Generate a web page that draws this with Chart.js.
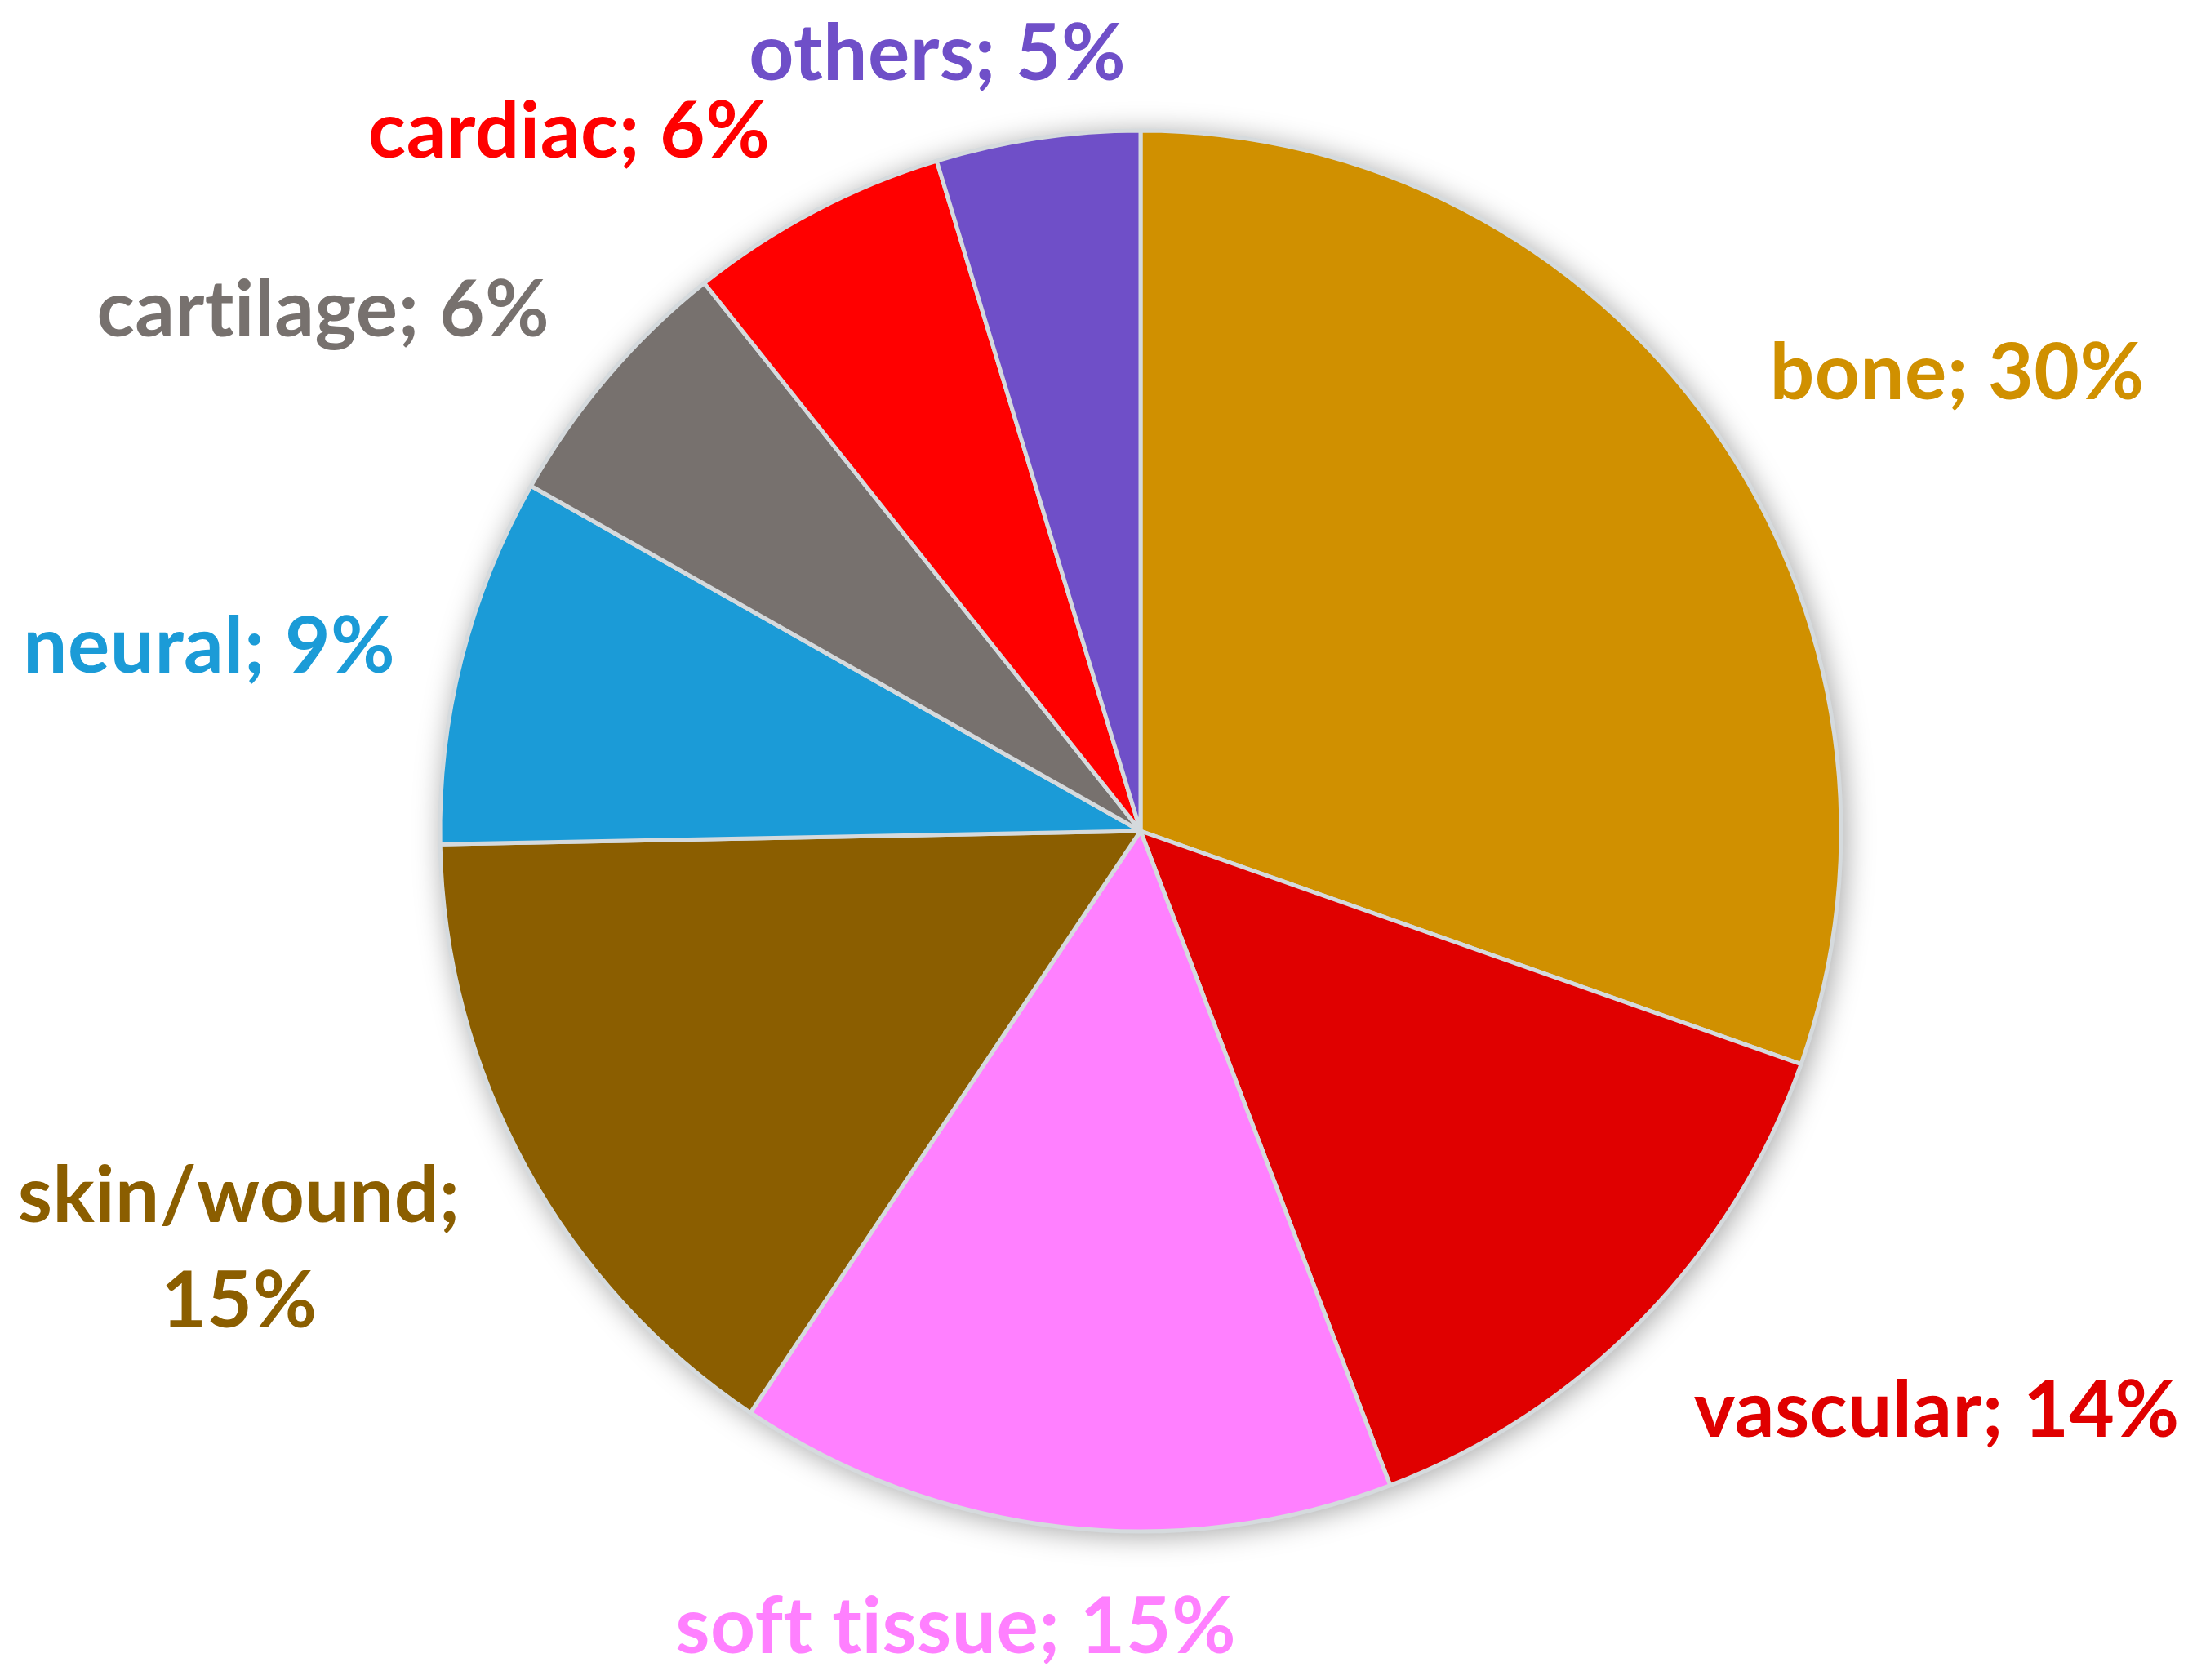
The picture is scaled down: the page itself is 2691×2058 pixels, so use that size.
<!DOCTYPE html>
<html>
<head>
<meta charset="utf-8">
<script src="https://cdn.jsdelivr.net/npm/chart.js"></script>
<style>
  html, body { margin: 0; padding: 0; background: #ffffff; }
  #wrap { width: 2691px; height: 2058px; }
</style>
</head>
<body>
<div id="wrap"><canvas id="pieChart" width="2691" height="2058"></canvas></div>
<script>
// chart data (shares in %; labels show them rounded)
const categories = ['bone', 'vascular', 'soft tissue', 'skin/wound', 'neural', 'cartilage', 'cardiac', 'others'];
const shares = [30.4, 13.8, 15.2, 15.3, 8.5, 6.1, 6.0, 4.7];
const sliceColors = ['#D09000', '#E00000', '#FF80FF', '#8B5E00', '#1B9BD7', '#77716E', '#FF0000', '#6F4FC8'];

// where each label sits: [angle from 12 o'clock in deg, distance as multiple of radius]
const labelPlacement = [[60.6, 1.338], [125.95, 1.404], [193.1, 1.164], [245.25, 1.417], [281.35, 1.356], [302.6, 1.385], [320.85, 1.292], [345.4, 1.15]];
// labels that break onto two lines after the semicolon
const wrappedLabels = ['skin/wound'];

// soft shadow disc under the pie
const pieShadow = {
    id: 'pieShadow',
    beforeDatasetsDraw(chart) {
        const arc = chart.getDatasetMeta(0).data[0];
        const ctx = chart.ctx;
        ctx.save();
        ctx.shadowColor = 'rgba(0,0,0,0.35)';
        ctx.shadowBlur = 34;
        ctx.shadowOffsetX = 4;
        ctx.shadowOffsetY = 4;
        ctx.fillStyle = '#D5DADD';
        ctx.beginPath();
        ctx.arc(arc.x, arc.y, arc.outerRadius + 2, 0, Math.PI * 2);
        ctx.fill();
        ctx.restore();
    }
};

// outside labels "name; xx%"
const sliceLabels = {
    id: 'sliceLabels',
    afterDatasetsDraw(chart) {
        const meta = chart.getDatasetMeta(0);
        const ctx = chart.ctx;
        const size = 96;
        const capHalf = size * 0.36;
        ctx.save();
        ctx.font = 'bold ' + size + 'px Lato, "Open Sans", sans-serif';
        ctx.textAlign = 'center';
        ctx.textBaseline = 'alphabetic';
        if ('letterSpacing' in ctx) ctx.letterSpacing = '0.5px'; // keeps "ti" from turning into a ligature
        meta.data.forEach((arc, i) => {
            const p = labelPlacement[i];
            const a = p[0] * Math.PI / 180;
            const d = arc.outerRadius * p[1];
            const cx = arc.x + Math.sin(a) * d;
            const cy = arc.y - Math.cos(a) * d;
            const pct = Math.round(shares[i]) + '%';
            ctx.fillStyle = sliceColors[i];
            if (wrappedLabels.includes(categories[i])) {
                const lh = 129;
                ctx.fillText(categories[i] + ';', cx, cy - lh / 2 + capHalf);
                ctx.fillText(pct, cx, cy + lh / 2 + capHalf);
            } else {
                ctx.fillText(categories[i] + '; ' + pct, cx, cy + capHalf);
            }
        });
        ctx.restore();
    }
};

new Chart(document.getElementById('pieChart').getContext('2d'), {
    type: 'pie',
    data: {
        labels: categories,
        datasets: [{
            data: shares,
            backgroundColor: sliceColors,
            borderColor: '#D5DADD',
            borderWidth: 5,
            radius: 858
        }]
    },
    options: {
        responsive: false,
        animation: false,
        layout: { padding: { left: 103, right: 0, top: 0, bottom: 22 } },
        plugins: {
            legend: { display: false },
            tooltip: { enabled: false }
        }
    },
    plugins: [pieShadow, sliceLabels]
});
</script>
</body>
</html>
